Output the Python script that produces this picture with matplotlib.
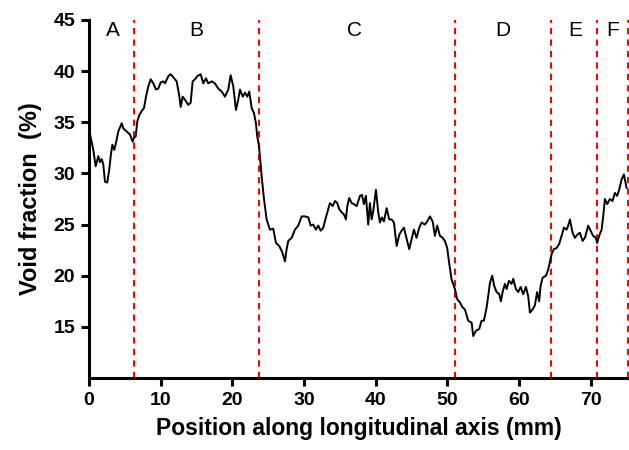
import numpy as np
import matplotlib.pyplot as plt

plt.rcParams['font.family'] = ['Liberation Sans', 'DejaVu Sans']

# position (mm) and void fraction (%)
position = [0.1, 0.6, 0.93, 1.3, 1.53, 1.77, 1.99, 2.23, 2.55, 2.83, 3.03, 3.25, 3.53, 3.86, 4.09,
            4.56, 4.78, 5.26, 5.72, 6.09, 6.28, 6.51, 6.74, 7.02, 7.35, 7.67, 7.95, 8.27, 8.61,
            8.97, 9.34, 9.67, 10.0, 10.36, 10.6, 11.06, 11.39, 11.76, 12.23, 12.59, 12.79, 13.07,
            13.39, 13.85, 14.18, 14.46, 14.78, 15.1, 15.58, 15.94, 16.32, 16.64, 17.11, 17.57,
            18.03, 18.51, 18.97, 19.43, 19.76, 20.13, 20.5, 20.82, 21.06, 21.44, 21.76, 22.08,
            22.36, 22.69, 23.01, 23.29, 23.47, 23.71, 24.09, 24.41, 24.78, 25.24, 25.7, 26.08,
            26.54, 26.96, 27.34, 27.57, 27.8, 28.27, 28.73, 29.19, 29.67, 30.13, 30.59, 30.92,
            31.28, 31.66, 31.98, 32.32, 32.68, 33.05, 33.61, 33.99, 34.31, 34.63, 34.91, 35.24,
            35.56, 35.84, 36.03, 36.3, 36.64, 36.96, 37.34, 37.8, 38.08, 38.35, 38.63, 38.95,
            39.19, 39.43, 39.65, 40.03, 40.35, 40.59, 40.86, 41.14, 41.52, 41.88, 42.22, 42.54,
            42.92, 43.28, 43.61, 43.93, 44.31, 44.67, 45.01, 45.33, 45.7, 46.07, 46.4, 46.86,
            47.18, 47.56, 47.94, 48.26, 48.58, 48.95, 49.33, 49.65, 49.97, 50.25, 50.59, 51.05,
            51.37, 51.74, 52.12, 52.44, 52.9, 53.38, 53.6, 53.97, 54.44, 54.77, 55.09, 55.47,
            55.69, 55.93, 56.25, 56.53, 56.86, 57.22, 57.46, 57.7, 58.02, 58.26, 58.58, 58.95,
            59.18, 59.55, 59.87, 60.21, 60.57, 60.95, 61.27, 61.51, 61.88, 62.2, 62.52, 62.8,
            63.0, 63.28, 63.74, 64.06, 64.53, 64.85, 65.23, 65.59, 65.93, 66.25, 66.62, 66.85,
            67.09, 67.46, 67.78, 68.1, 68.48, 68.86, 69.18, 69.64, 69.97, 70.33, 70.71, 70.89,
            71.17, 71.51, 71.73, 71.97, 72.29, 72.66, 73.04, 73.36, 73.68, 73.96, 74.3, 74.62,
            74.99]
void = [34.0, 32.3, 30.7, 31.7, 31.1, 31.4, 30.9, 29.2, 29.1, 30.4, 31.7, 32.8, 32.3, 33.3, 34.1,
        34.9, 34.4, 34.1, 33.8, 33.1, 33.5, 33.6, 35.1, 35.7, 36.1, 36.4, 37.5, 38.5, 39.2,
        38.8, 38.2, 38.3, 38.9, 39.0, 38.8, 39.5, 39.7, 39.4, 39.0, 37.6, 36.5, 37.5,
        37.2, 36.7, 36.9, 39.0, 39.2, 39.5, 39.7, 38.8, 39.3, 38.8, 39.0, 38.8,
        38.3, 38.0, 37.5, 38.2, 39.6, 38.5, 36.2, 37.2, 38.2, 37.5, 37.9, 37.5,
        38.0, 36.4, 35.9, 34.9, 33.6, 32.7, 29.7, 27.5, 25.5, 24.5, 24.6, 23.2,
        22.9, 22.3, 21.4, 22.6, 23.4, 23.7, 24.5, 24.9, 25.8, 25.8, 25.7, 24.9,
        25.0, 24.5, 24.9, 24.4, 24.7, 25.7, 27.1, 26.8, 27.3, 27.1, 26.5, 26.2,
        26.0, 25.5, 26.8, 27.6, 27.1, 27.0, 26.8, 27.8, 27.9, 27.0, 27.8, 25.0,
        27.1, 25.5, 26.3, 28.4, 26.2, 25.2, 25.7, 25.3, 26.6, 25.5, 25.5, 25.2,
        22.9, 24.0, 24.4, 24.7, 23.6, 22.6, 23.6, 24.5, 23.7, 24.7, 25.2, 25.0,
        25.3, 25.8, 25.3, 23.9, 24.9, 23.9, 23.7, 23.4, 22.7, 21.2, 19.6, 18.7,
        17.7, 17.4, 16.9, 16.7, 15.6, 15.4, 14.1, 14.6, 14.8, 15.6, 15.6, 16.9,
        18.0, 19.3, 20.0, 19.0, 18.4, 18.2, 17.5, 18.4, 19.2, 18.7, 19.5, 19.2,
        19.7, 18.7, 18.4, 18.9, 18.2, 18.9, 18.0, 16.4, 16.7, 17.1, 18.4, 17.5,
        19.0, 19.8, 20.0, 20.6, 22.1, 22.6, 22.7, 23.1, 23.9, 24.7, 24.5, 24.9,
        25.5, 24.2, 23.7, 24.0, 24.2, 23.4, 23.7, 24.9, 24.4, 23.9, 23.7, 23.2,
        23.9, 24.5, 25.8, 27.5, 27.0, 27.5, 27.3, 28.1, 27.8, 28.4, 29.4, 29.9,
        28.6]

boundaries = [6.3, 23.75, 51.0, 64.5, 70.8, 75.2]
region_names = ['A', 'B', 'C', 'D', 'E', 'F']
region_centres = [3.4, 15.0, 37.1, 57.7, 67.8, 73.0]

fig = plt.figure(figsize=(6.29, 4.5), dpi=100)
ax = fig.add_axes([0.1415, 0.16, 0.857, 0.7956])

ax.plot(position, void, color='black', lw=1.4, zorder=3)
for b in boundaries:
    ax.axvline(b, color='red', ls=(0, (3, 2.5)), lw=1.5, zorder=2, clip_on=False)
for name, xc in zip(region_names, region_centres):
    ax.text(xc, 44.0, name, ha='center', va='center', fontsize=15)

ax.set_xlim(0, 75.2)
ax.set_ylim(10, 45)
ax.set_xticks(np.arange(0, 71, 10))
ax.set_yticks(np.arange(15, 46, 5))

for side in ['top', 'right']:
    ax.spines[side].set_visible(False)
for side in ['left', 'bottom']:
    ax.spines[side].set_linewidth(2.2)
ax.tick_params(width=2.2, length=6, labelsize=14, pad=4)
for lab in ax.get_xticklabels() + ax.get_yticklabels():
    lab.set_fontweight('bold')

ax.set_xlabel('Position along longitudinal axis (mm)', fontsize=16.5, fontweight='bold', labelpad=6)
ax.set_ylabel('Void fraction  (%)', fontsize=17, fontweight='bold', labelpad=8)

plt.savefig('out.png', dpi=100)
